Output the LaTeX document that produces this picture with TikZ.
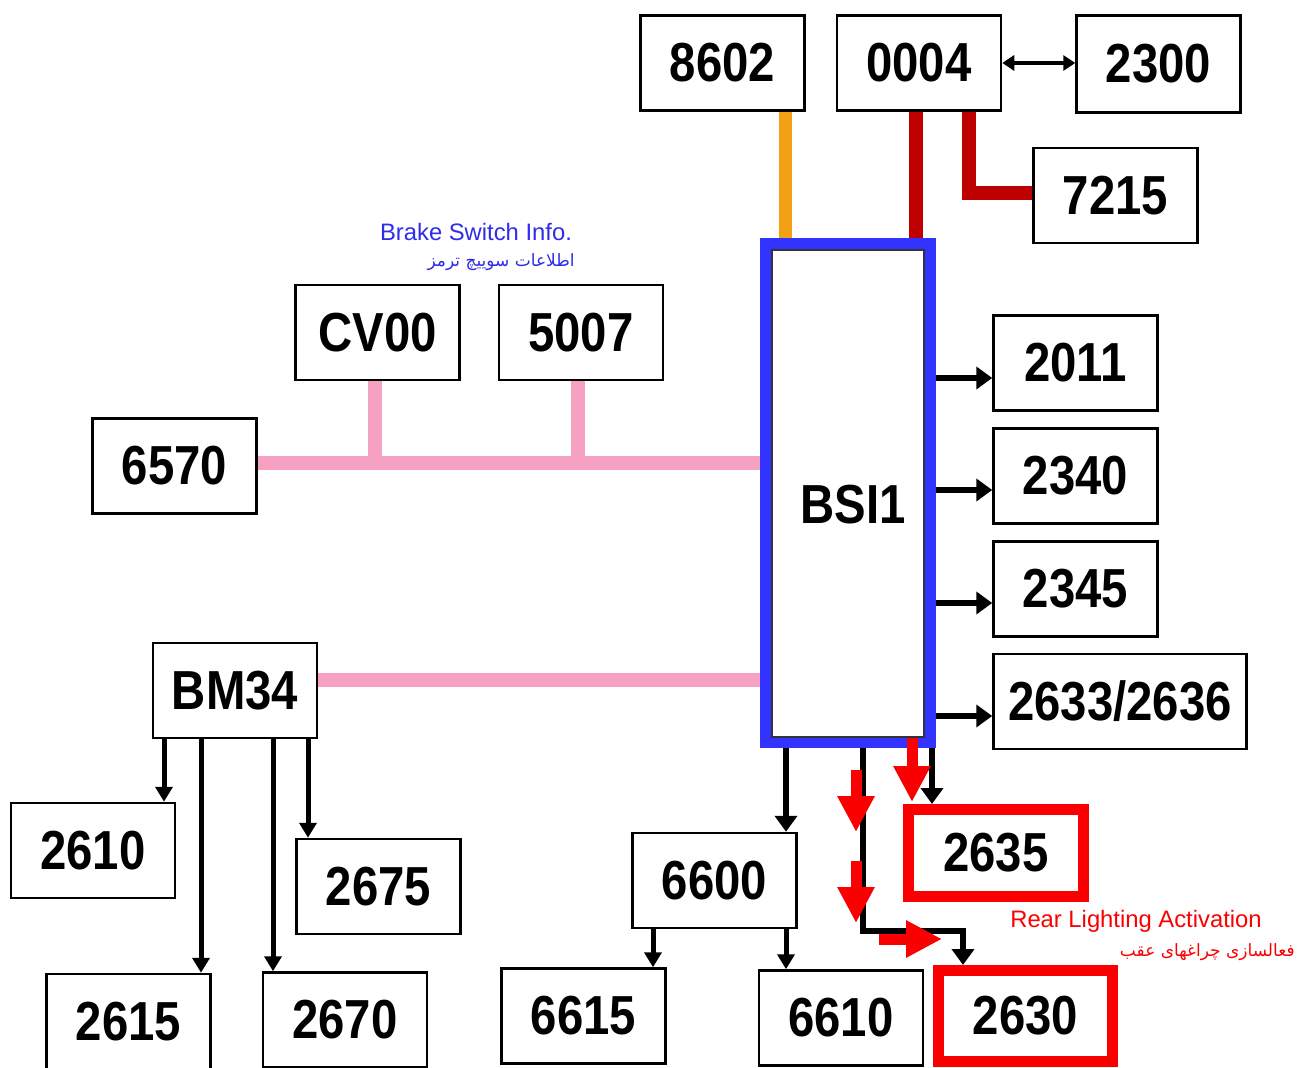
\documentclass[tikz,border=0pt]{standalone}
\usepackage{fontspec}
\usetikzlibrary{arrows.meta}
\TeXXeTstate=1
\newfontfamily\numfont[FakeStretch=0.86]{Liberation Sans}
\newfontfamily\lblfont{Liberation Sans}
\newfontfamily\farsifont[Script=Arabic]{DejaVu Sans}
\definecolor{bsiblue}{RGB}{51,51,255}
\definecolor{lblblue}{RGB}{45,45,235}
\definecolor{busorange}{RGB}{242,160,20}
\definecolor{busdark}{RGB}{190,0,0}
\definecolor{buspink}{RGB}{246,160,194}
\definecolor{hired}{RGB}{250,0,0}
\begin{document}
\begin{tikzpicture}[x=0.5pt,y=-0.5pt,
  box/.style={draw=black, line width=1.25pt, fill=white, inner sep=0pt,
    minimum width=82pt, minimum height=47.5pt,
    font=\numfont\bfseries\fontsize{27.5}{30}\selectfont},
  redbox/.style={box, draw=hired, line width=5.5pt},
  arr/.style={line width=3pt, -{Triangle[width=11pt,length=8pt]}},
  sarr/.style={line width=2.5pt, -{Triangle[width=8.5pt,length=7.5pt]}},
  darr/.style={line width=2pt, {Triangle[width=7.5pt,length=6pt]}-{Triangle[width=7.5pt,length=6pt]}},
  blockarr/.style={draw=hired, line width=5.5pt, -{Triangle[width=17.5pt,length=18pt]}},
  orangebus/.style={draw=busorange, line width=6.5pt},
  darkbus/.style={draw=busdark, line width=7pt},
  pinkbus/.style={draw=buspink, line width=7pt},
  bluetxt/.style={text=lblblue, inner sep=0pt, font=\lblfont\fontsize{11.9}{13}\selectfont},
  bluefa/.style={text=lblblue, inner sep=0pt, font=\farsifont\fontsize{8.5}{10}\selectfont},
  redtxt/.style={text=hired, inner sep=0pt, font=\lblfont\fontsize{11.9}{13}\selectfont},
  redfa/.style={text=hired, inner sep=0pt, font=\farsifont\fontsize{8.5}{10}\selectfont}
]
\useasboundingbox[fill=white] (0,0) rectangle (1306,1068);

% ---- nodes ----
\node[box] (n8602) at (722.5,63) {8602};
\node[box] (n0004) at (919,63) {0004};
\node[box, minimum height=48.5pt] (n2300) at (1158.5,64) {2300};
\node[box] (n7215) at (1115.5,195.5) {7215};
\node[box] (nCV00) at (377.5,332.5) {CV00};
\node[box] (n5007) at (581,332.5) {5007};
\node[box] (n6570) at (174.5,466) {6570};
\node[box, draw=bsiblue, line width=6pt, minimum width=82pt, minimum height=249pt,
  label={[font=\numfont\bfseries\fontsize{27.5}{30}\selectfont, xshift=2.5pt, yshift=-6pt]center:BSI1}]
  (BSI1) at (848,493) {};
\draw[line width=0.9pt, draw=black!80] (772,250) rectangle (924,737);
\node[box] (n2011) at (1075.5,363) {2011};
\node[box] (n2340) at (1075.5,476) {2340};
\node[box] (n2345) at (1075.5,589) {2345};
\node[box, minimum width=126.5pt] (n2633) at (1120,701.5) {2633/2636};
\node[box] (nBM34) at (235,690.5) {BM34};
\node[box] (n2610) at (93,850.5) {2610};
\node[box] (n2675) at (378.5,886.5) {2675};
\node[box] (n2615) at (128.5,1021.5) {2615};
\node[box] (n2670) at (345,1020) {2670};
\node[box] (n6600) at (714.5,880.5) {6600};
\node[box] (n6615) at (583.5,1016) {6615};
\node[box] (n6610) at (841,1018) {6610};
\node[redbox, minimum width=87.5pt, minimum height=43.5pt] (n2635) at (996,853) {2635};
\node[redbox, minimum width=87pt, minimum height=45.5pt] (n2630) at (1025.5,1016) {2630};

% ---- top buses ----
\draw[orangebus] (n8602.south -| 785,0) -- (BSI1.north -| 785,0);
\draw[darkbus] (n0004.south -| 916,0) -- (BSI1.north -| 916,0);
\draw[darkbus, line join=miter] (n0004.south -| 969,0) |- (n7215.west |- 0,193);
\draw[darr] (n0004.east) -- (n0004.east -| n2300.west);

% ---- pink buses ----
\draw[pinkbus] (n6570.east |- 0,463) -- (BSI1.west |- 0,463);
\draw[pinkbus] (nCV00.south -| 375,0) -- (375,463);
\draw[pinkbus] (n5007.south -| 578,0) -- (578,463);
\draw[pinkbus] (nBM34.east |- 0,680) -- (BSI1.west |- 0,680);

% ---- BSI1 outputs right ----
\draw[arr] (BSI1.east |- 0,378) -- (n2011.west |- 0,378);
\draw[arr] (BSI1.east |- 0,490) -- (n2340.west |- 0,490);
\draw[arr] (BSI1.east |- 0,603) -- (n2345.west |- 0,603);
\draw[arr] (BSI1.east |- 0,716) -- (n2633.west |- 0,716);

% ---- BSI1 outputs down ----
\draw[arr] (BSI1.south -| 786,0) -- (n6600.north -| 786,0);
\draw[arr] (BSI1.south -| 932,0) -- (n2635.north -| 932,0);
\coordinate (k1) at (863,931);
\coordinate (k2) at (963,931);
\draw[arr, line join=miter] (BSI1.south -| 863,0) -- (k1) -- (k2) -- (n2630.north -| 963,0);

% ---- BM34 outputs ----
\draw[sarr] (nBM34.south -| 164,0) -- (n2610.north -| 164,0);
\draw[sarr] (nBM34.south -| 201,0) -- (n2615.north -| 201,0);
\draw[sarr] (nBM34.south -| 273,0) -- (n2670.north -| 273,0);
\draw[sarr] (nBM34.south -| 308,0) -- (n2675.north -| 308,0);

% ---- 6600 outputs ----
\draw[sarr] (n6600.south -| 653,0) -- (n6615.north -| 653,0);
\draw[sarr] (n6600.south -| 786,0) -- (n6610.north -| 786,0);

% ---- red flow arrows ----
\draw[blockarr] (912,738) -- (912,802);
\draw[blockarr] (856,770) -- (856,832);
\draw[blockarr] (856,861) -- (856,923);
\draw[blockarr] (879,939) -- (942,939);

% ---- labels ----
\node[bluetxt] (lblBrake) at (476,232) {Brake Switch Info.};
\node[bluefa, anchor=east] (lblBrakeFa) at (575,262) {\beginR اطلاعات سوییچ ترمز\endR};
\node[redtxt] (lblRear) at (1136,921) {Rear Lighting Activation};
\node[redfa, anchor=east] (lblRearFa) at (1295,952) {\beginR فعالسازی چراغهای عقب\endR};
\end{tikzpicture}
\end{document}
